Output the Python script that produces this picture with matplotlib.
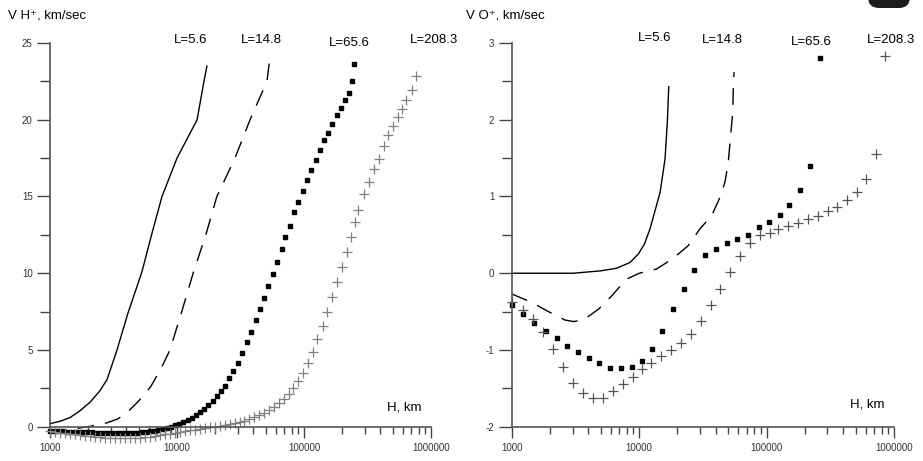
import matplotlib
matplotlib.use("Agg")
import matplotlib.pyplot as plt
from matplotlib.patches import FancyBboxPatch
from matplotlib.transforms import IdentityTransform
from matplotlib.ticker import LogLocator, NullFormatter

plt.rcParams['font.family'] = ['Liberation Sans', 'DejaVu Sans']

# ---- данные ----
x_ticks = [1000, 10000, 100000, 1000000]
x_tick_labels = ["1000", "10000", "100000", "1000000"]

# левая панель: V H+
h_solid_left = [1000, 1200, 1440, 1700, 2070, 2450, 2810, 3370, 4110, 5300, 6350, 7620, 10000,
                14400, 16300, 17200]
v_solid_left = [0.2, 0.35, 0.6, 1.0, 1.6, 2.3, 3.06, 5.0, 7.4, 10.1, 12.6, 15.0, 17.5,
                20.0, 22.5, 23.5]

h_dash_left = [1000, 1400, 2000, 2800, 3400, 3900, 4900, 6200, 7500, 8800, 10900, 13400,
               17000, 20600, 28600, 37600, 51100, 54000]
v_dash_left = [-0.3, -0.2, 0.0, 0.25, 0.5, 0.8, 1.6, 2.6, 3.8, 5.0, 7.5, 10.0,
               12.6, 15.0, 17.5, 20.0, 22.5, 24.1]

h_dots_left = [1000, 1080, 1160, 1250, 1350, 1460, 1570, 1700, 1830, 1970,
               2130, 2290, 2470, 2670, 2880, 3100, 3350, 3610, 3890, 4200,
               4530, 4880, 5260, 5680, 6130,
               6630, 7130, 7710, 8290, 8970, 9640, 10430, 11220, 12130, 13050,
               14110, 15180, 16320, 17650, 19100, 20500, 22200, 23900, 25800, 27800,
               30000, 32700, 35400, 38000, 41600, 44800, 48400, 52400, 56700, 61700,
               66700, 70800,
               77600, 83400, 90200, 97600, 105000, 113500, 123600, 133600, 143600, 155400,
               167000, 180700, 194300, 210000, 226000, 237500, 247600]
v_dots_left = [-0.30, -0.30, -0.31, -0.31, -0.32, -0.32, -0.33, -0.34, -0.35, -0.36,
               -0.37, -0.38, -0.39, -0.40, -0.40, -0.41, -0.41, -0.41, -0.40, -0.40,
               -0.39, -0.38, -0.36, -0.34, -0.31,
               -0.28, -0.22, -0.15, -0.09, 0.0, 0.09, 0.17, 0.28, 0.43, 0.59,
               0.74, 0.93, 1.15, 1.41, 1.69, 2.02, 2.34, 2.67, 3.15, 3.62,
               4.17, 4.82, 5.53, 6.18, 6.94, 7.66, 8.40, 9.16, 9.98, 10.74,
               11.61, 12.37,
               13.07, 14.0, 14.61, 15.37, 16.06, 16.75, 17.36, 18.06, 18.66, 19.14,
               19.75, 20.29, 20.79, 21.31, 21.74, 22.5, 23.66]

h_cross_left = [1000, 1095, 1200, 1314, 1438, 1575, 1724, 1888, 2067, 2263,
                2478, 2713, 2970, 3252, 3561, 3899, 4269, 4674, 5118, 5604,
                6136, 6718, 7356, 8054, 8819, 9656, 10570, 11580, 12680, 13880,
                15200, 16640, 18220, 19950, 21850, 23920, 26190, 28680, 31400,
                33700, 36900, 40400, 44200, 48400, 53300, 58400, 63900, 70000, 76200,
                82400, 90200, 98700, 108100, 117100, 127300, 141900, 152600,
                167200, 180700, 198000, 216800, 233200,
                252000, 267800, 296800, 324900, 355800, 389600, 426600, 456000, 505000, 547000,
                588000, 635000, 713000, 762000]
v_cross_left = [-0.30, -0.34, -0.38, -0.42, -0.46, -0.50, -0.54, -0.58, -0.62, -0.65,
                -0.68, -0.71, -0.73, -0.74, -0.75, -0.75, -0.74, -0.73, -0.71, -0.68,
                -0.64, -0.60, -0.55, -0.50, -0.45, -0.40, -0.34, -0.29, -0.24, -0.19,
                -0.14, -0.09, -0.04, 0.0, 0.05, 0.11, 0.17, 0.23, 0.30,
                0.37, 0.48, 0.61, 0.76, 0.91, 1.09, 1.30, 1.52, 1.80, 2.11,
                2.50, 2.99, 3.52, 4.13, 4.84, 5.69, 6.56, 7.45,
                8.46, 9.44, 10.42, 11.39, 12.33,
                13.35, 14.15, 15.13, 15.95, 16.76, 17.41, 18.27, 19.03, 19.58, 20.18,
                20.73, 21.27, 21.97, 22.83]

# правая панель: V O+
h_solid_right = [1000, 2000, 3040, 4930, 6670, 8480, 9860, 11000, 12180, 14590, 15970, 16650, 17070]
v_solid_right = [0.0, 0.0, 0.0, 0.03, 0.065, 0.14, 0.25, 0.38, 0.58, 1.05, 1.49, 1.97, 2.43]

h_dash_right = [1000, 1436, 1940, 2620, 3050, 3650, 4790, 6210, 7890, 10040, 13740, 18550,
                24300, 30060, 37100, 42600, 47200, 50100, 51700, 54300, 54900, 55600]
v_dash_right = [-0.27, -0.38, -0.50, -0.61, -0.63, -0.61, -0.47, -0.28, -0.08, 0.0, 0.056, 0.195,
                0.36, 0.58, 0.75, 0.97, 1.19, 1.45, 1.71, 2.10, 2.45, 2.62]

h_dots_right = [1000, 1233, 1505, 1848, 2254, 2733, 3330, 4040, 4870, 5910,
                7210, 8850, 10480, 12560, 15220, 18450, 22400, 27100, 32900, 39900,
                48700, 59000, 71200, 87300, 105200, 127600, 151000, 183200, 219600, 263000]
v_dots_right = [-0.42, -0.53, -0.65, -0.75, -0.85, -0.95, -1.03, -1.11, -1.17, -1.23,
                -1.23, -1.22, -1.15, -0.99, -0.75, -0.47, -0.20, 0.04, 0.24, 0.32,
                0.39, 0.45, 0.50, 0.60, 0.67, 0.76, 0.89, 1.09, 1.40, 2.80]

h_cross_right = [1000, 1233, 1477, 1771, 2120, 2540, 3045, 3650, 4370, 5180,
                 6270, 7520, 9000, 10480, 12330, 14780, 17700, 21200, 25400, 30400,
                 36500, 43200, 51700, 61900, 74200, 88900, 106500, 123800, 148300, 177700,
                 212900, 252400, 302000, 359500, 430900, 510200, 603600, 719500, 851000]
v_cross_right = [-0.38, -0.48, -0.60, -0.76, -0.99, -1.22, -1.43, -1.56, -1.63, -1.62,
                 -1.54, -1.45, -1.35, -1.25, -1.17, -1.08, -1.00, -0.91, -0.79, -0.62,
                 -0.42, -0.20, 0.01, 0.22, 0.40, 0.50, 0.53, 0.58, 0.62, 0.66,
                 0.71, 0.75, 0.81, 0.86, 0.95, 1.06, 1.23, 1.55, 2.83]

L_labels = ["L=5.6", "L=14.8", "L=65.6", "L=208.3"]

W, H = 923, 461
fig = plt.figure(figsize=(W / 100, H / 100), dpi=100)
ax1 = fig.add_axes([50 / W, 34.3 / H, 381 / W, 383.7 / H])
ax2 = fig.add_axes([511.7 / W, 34.3 / H, 382.3 / W, 383.7 / H])


def style_axes(ax, ylim, ymajor, ylabels, yminor):
    ax.set_xscale('log')
    ax.set_xlim(1000, 1000000)
    ax.set_ylim(*ylim)
    for s in ('top', 'right'):
        ax.spines[s].set_visible(False)
    for s in ('left', 'bottom'):
        ax.spines[s].set_linewidth(1.2)
        ax.spines[s].set_color('#555555')
    ax.set_xticks(x_ticks)
    ax.set_xticklabels(x_tick_labels)
    ax.xaxis.set_minor_locator(LogLocator(base=10, subs=range(2, 10)))
    ax.xaxis.set_minor_formatter(NullFormatter())
    ax.set_yticks(ymajor)
    ax.set_yticklabels(ylabels)
    ax.set_yticks(yminor, minor=True)
    ax.tick_params(axis='both', which='both', direction='out', color='#444444',
                   width=1.0, labelsize=7, labelcolor='#333333')
    ax.tick_params(axis='x', which='major', length=8, pad=4)
    ax.tick_params(axis='x', which='minor', length=5)
    ax.tick_params(axis='y', which='major', length=9.5, pad=3)
    ax.tick_params(axis='y', which='minor', length=7)
    ax.patch.set_visible(False)


def draw(ax, hs, vs, hd, vd, hp, vp, hc, vc, cross_color):
    ax.plot(hs, vs, color='black', lw=1.0, clip_on=False)
    ax.plot(hd, vd, color='black', lw=1.0, ls=(0, (12, 8)), clip_on=False)
    ax.plot(hp, vp, ls='none', marker='s', ms=2.2, color='black', clip_on=False)
    ax.plot(hc, vc, ls='none', marker='+', ms=7, mew=0.9, color=cross_color, clip_on=False)


style_axes(ax1, (0, 25), [0, 5, 10, 15, 20, 25], ["0", "5", "10", "15", "20", "25"],
           [2.5, 7.5, 12.5, 17.5, 22.5])
style_axes(ax2, (-2, 3), [-2, -1, 0, 1, 2, 3], ["-2", "-1", "0", "1", "2", "3"],
           [-1.5, -0.5, 0.5, 1.5, 2.5])

draw(ax1, h_solid_left, v_solid_left, h_dash_left, v_dash_left,
     h_dots_left, v_dots_left, h_cross_left, v_cross_left, '#808080')
draw(ax2, h_solid_right, v_solid_right, h_dash_right, v_dash_right,
     h_dots_right, v_dots_right, h_cross_right, v_cross_right, '#555555')


def ftext(x, y, s, **kw):
    fig.text(x / W, 1 - y / H, s, va='center', **kw)


ftext(8, 15, "V H⁺, km/sec", fontsize=9.5, ha='left')
ftext(466, 15, "V O⁺, km/sec", fontsize=9.5, ha='left')
ftext(404, 407, "H, km", fontsize=9.5, ha='center')
ftext(867, 404, "H, km", fontsize=9.5, ha='center')

for x, y, s in zip([191, 261, 349, 434], [40, 40, 43, 40], L_labels):
    ftext(x, y, s, fontsize=9.5, ha='center')
for x, y, s in zip([655, 722, 811, 891], [38, 40, 42, 40], L_labels):
    ftext(x, y, s, fontsize=9.5, ha='center')

# тёмное пятно в правом верхнем углу исходной картинки
blob = FancyBboxPatch((868, H - 8), 42, 24, boxstyle="round,pad=0,rounding_size=11",
                      facecolor='#1c1c1c', edgecolor='none', transform=IdentityTransform())
fig.add_artist(blob)

fig.savefig("out.png", dpi=100)
